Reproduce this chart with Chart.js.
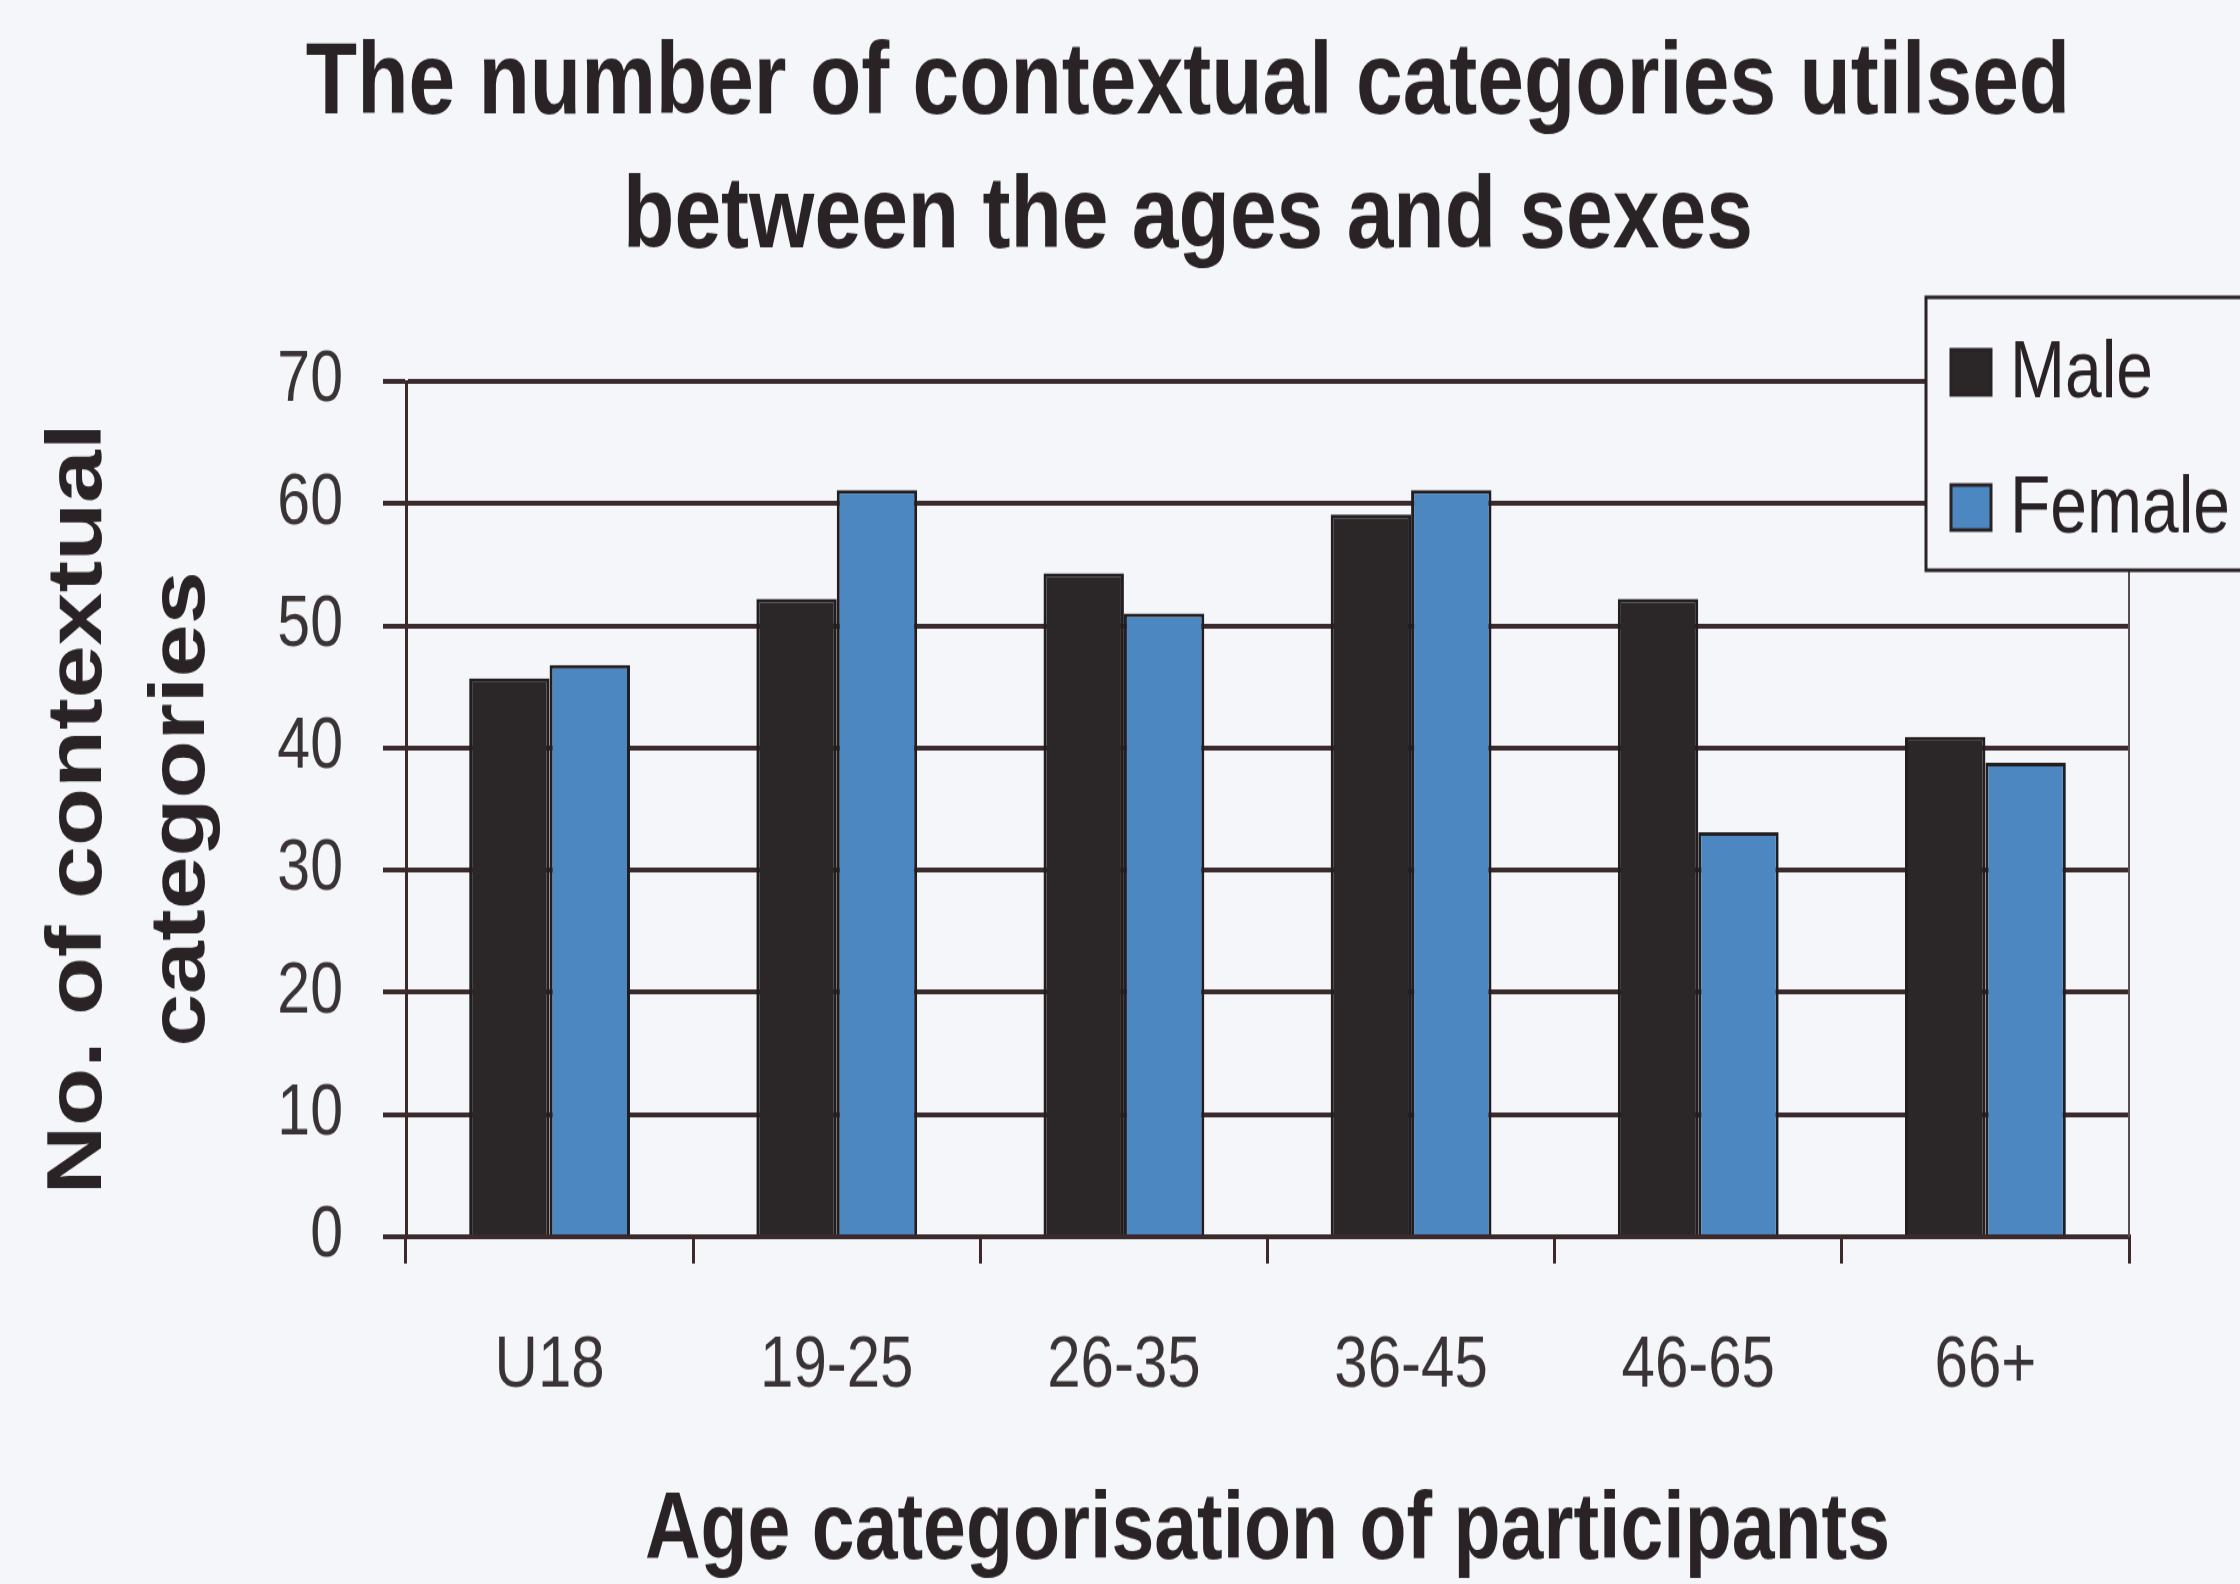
<!DOCTYPE html>
<html>
<head>
<meta charset="utf-8">
<script src="https://cdn.jsdelivr.net/npm/chart.js@4.4.0/dist/chart.umd.min.js"></script>
<style>
  html, body { margin: 0; padding: 0; background: #f4f6fa; overflow: hidden; }
</style>
</head>
<body>
<!-- the original picture is stretched vertically, so the canvas is drawn shorter and shown at full height -->
<canvas id="chart" width="2240" height="1300" style="display:block;width:2240px;height:1584px"></canvas>
<script>
// data
var ageGroups = ['U18', '19-25', '26-35', '36-45', '46-65', '66+'];
var maleCounts = [45.7, 52.2, 54.3, 59.1, 52.2, 40.9];
var femaleCounts = [46.8, 61.1, 51.0, 61.1, 33.1, 38.8];
var yTicks = [0, 10, 20, 30, 40, 50, 60, 70];
var titleLines = ['The number of contextual categories utilsed', 'between the ages and sexes'];
var yTitleLines = ['No. of contextual', 'categories'];
var xTitle = 'Age categorisation of participants';

var bg = '#f4f6fa';
var ink = '#2a2325';
var lineCol = '#3a2a2c';

// pick a narrow face for the tick labels if there is one
function hasFont(name) {
  var c = document.createElement('canvas').getContext('2d');
  var s = 'mmmmmmmmmmlli1-25 WQ';
  c.font = '72px monospace';
  var a = c.measureText(s).width;
  c.font = '72px "' + name + '", monospace';
  return c.measureText(s).width !== a;
}
var narrowOk = hasFont('Liberation Sans Narrow');
var tickFamily = narrowOk ? "'Liberation Sans Narrow', 'Liberation Sans', sans-serif" : "'Liberation Sans', sans-serif";
var tickScale = narrowOk ? 1 : 0.84;

// title, legend box and right frame line
var decor = {
  id: 'decor',
  beforeDraw: function(chart) {
    var c = chart.ctx;
    c.save();
    c.fillStyle = bg;
    c.fillRect(0, 0, chart.width, chart.height);
    c.restore();
  },
  beforeDatasetsDraw: function(chart) {
    var c = chart.ctx, a = chart.chartArea;
    c.save();
    c.strokeStyle = '#5a4c4e';
    c.lineWidth = 2;
    c.beginPath();
    c.moveTo(a.right, a.top);
    c.lineTo(a.right, a.bottom);
    c.stroke();
    c.restore();
  },
  afterDraw: function(chart) {
    var c = chart.ctx;
    c.save();
    // title
    c.fillStyle = ink;
    c.font = "bold 84px 'Liberation Sans', Arial, sans-serif";
    c.textAlign = 'center';
    c.textBaseline = 'alphabetic';
    c.fillText(titleLines[0], 1188, 93);
    c.fillText(titleLines[1], 1188, 203);

    // legend
    c.fillStyle = bg;
    c.fillRect(1926, 244, 340, 224);
    c.strokeStyle = ink;
    c.lineWidth = 3;
    c.strokeRect(1926, 244, 340, 224);
    chart.data.datasets.forEach(function(ds, i) {
      var sy = 287 + i * 111;
      c.fillStyle = ds.backgroundColor;
      c.fillRect(1951, sy, 40, 37);
      c.strokeStyle = ink;
      c.lineWidth = 3;
      c.strokeRect(1951, sy, 40, 37);
      c.fillStyle = ink;
      c.font = "66px 'Liberation Sans', Arial, sans-serif";
      c.textAlign = 'left';
      c.textBaseline = 'alphabetic';
      c.fillText(ds.label, 2010, sy + 39);
    });
    c.restore();
  }
};

var chart = new Chart(document.getElementById('chart'), {
  type: 'bar',
  data: {
    labels: ageGroups,
    datasets: [
      { label: 'Male', data: maleCounts, backgroundColor: '#2b2729', borderColor: '#221d1f', borderWidth: 3 },
      { label: 'Female', data: femaleCounts, backgroundColor: '#4d87c2', borderColor: '#221d1f', borderWidth: 3 }
    ]
  },
  options: {
    responsive: false,
    animation: false,
    devicePixelRatio: 1,
    categoryPercentage: 0.56,
    barPercentage: 1,
    layout: { padding: { top: 313, right: 111, left: 0, bottom: 0 } },
    plugins: {
      legend: { display: false },
      title: { display: false },
      tooltip: { enabled: false }
    },
    scales: {
      x: {
        grid: { drawOnChartArea: false, drawTicks: true, tickLength: 22, color: lineCol, lineWidth: 3, offset: true },
        border: { display: true, color: lineCol, width: 4 },
        ticks: {
          font: { family: tickFamily, size: Math.round(72 * tickScale) },
          color: '#3a3335',
          padding: 48,
          maxRotation: 0,
          autoSkip: false
        },
        title: {
          display: true,
          text: xTitle,
          color: ink,
          font: { family: "'Liberation Sans', Arial, sans-serif", size: 77, weight: 'bold', lineHeight: 1.0 },
          padding: { top: 0, bottom: 4 }
        },
        afterFit: function(s) { s.height = 285; }
      },
      y: {
        min: 0,
        max: 70,
        afterBuildTicks: function(s) {
          s.ticks = yTicks.map(function(v) { return { value: v }; });
        },
        grid: { color: lineCol, lineWidth: 4, tickLength: 23 },
        border: { display: true, color: lineCol, width: 3 },
        ticks: {
          font: { family: tickFamily, size: Math.round(70 * tickScale) },
          color: '#3a3335',
          padding: 40
        },
        title: {
          display: true,
          text: yTitleLines,
          color: ink,
          font: { family: "'Liberation Sans', Arial, sans-serif", size: 78, weight: 'bold', lineHeight: 1.333 },
          padding: { top: 27, bottom: 0 }
        },
        afterFit: function(s) { s.width = 406; }
      }
    }
  },
  plugins: [decor]
});
</script>
</body>
</html>
